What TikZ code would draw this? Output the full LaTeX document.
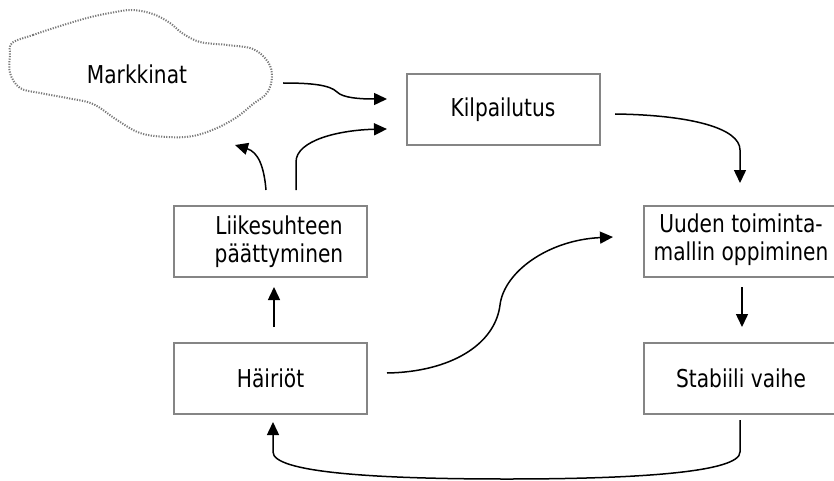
\documentclass[tikz,border=0pt]{standalone}
\usepackage{fontspec}
\setmainfont{DejaVu Sans}[FakeStretch=0.82]
\usetikzlibrary{arrows.meta}
\definecolor{boxgray}{HTML}{858585}
\definecolor{cloudgray}{HTML}{7A7A7A}
\tikzset{
  stagebox/.style={draw=boxgray, line width=2pt, minimum width=193pt,
    minimum height=71pt, inner sep=0pt},
  lbl/.style={align=center, inner sep=0pt,
    font=\fontsize{24.6}{28}\selectfont},
  flow/.style={line width=1.5pt, -{Triangle[length=13pt,width=12pt]}},
}
\begin{document}
\begin{tikzpicture}[x=1pt, y=-1pt]
\useasboundingbox (0,0) rectangle (834,481);
\clip (0,0) rectangle (834,481);

% market cloud
\draw[cloudgray, line width=2pt, dash pattern=on 1.2pt off 1.4pt] plot[smooth cycle, tension=0.6] coordinates {
  (12,43) (33,35) (57,27) (87,18) (110,13) (132,10) (153,14) (170,23) (182,33)
  (200,42) (227,45) (253,49) (268,62) (272,77) (267,93) (253,104) (237,117)
  (217,128) (193,136) (167,137) (140,133) (117,120) (93,104) (67,98) (40,93)
  (20,88) (10,73) (10,55)};
\node[lbl] (mark) at (137,74) {Markkinat};

% stage boxes
\node[stagebox] (kilp) at (503,109.5) {};
\node[lbl] (kilptxt) at (503,109.5) {Kilpailutus};
\node[stagebox] (liik) at (270.5,241.5) {};
\node[lbl] (liiktxt) at (279,241.5) {Liikesuhteen\\päättyminen};
\node[stagebox] (hair) at (270.5,378) {};
\node[lbl] (hairtxt) at (270.5,378) {Häiriöt};
\node[stagebox, minimum width=194pt] (uud) at (741,241.5) {};
\node[lbl] (uudtxt) at (741,239.5) {Uuden toiminta-\\mallin oppiminen};
\node[stagebox, minimum width=194pt] (stab) at (741,378.5) {};
\node[lbl] (stabtxt) at (741,378.5) {Stabiili vaihe};

% connector end points
\coordinate (m1) at (283,83);
\coordinate (k1) at (387,99);
\coordinate (l1) at (296,190);
\coordinate (k2) at (387,129);
\coordinate (l2) at (266,190);
\coordinate (m2) at (235,145);
\coordinate (h1) at (274,327);
\coordinate (l3) at (274,287);
\coordinate (h2) at (387,373);
\coordinate (u1) at (613,237);
\coordinate (k3) at (615,114);
\coordinate (u2) at (740,183);
\coordinate (u3) at (742,287);
\coordinate (s1) at (742,327);
\coordinate (s2) at (740,420);
\coordinate (h3) at (273,422);

% connectors
\draw[flow] (m1) .. controls (312,83) and (330,85) .. (337,92)
  .. controls (343,98) and (360,99) .. (k1);
\draw[flow] (l1) -- (296,162) .. controls (296,140) and (340,130) .. (k2);
\draw[flow] (l2) .. controls (264,166) and (258,152) .. (m2);
\draw[flow] (h1) -- (l3);
\draw[flow] (h2) .. controls (450,372) and (495,345) .. (500,305)
  .. controls (504,272) and (548,240) .. (u1);
\draw[flow] (k3) .. controls (690,115) and (740,128) .. (740,150) -- (u2);
\draw[flow] (u3) -- (s1);
\draw[flow] (s2) -- (740,452) .. controls (740,472) and (640,479) .. (507,479)
  .. controls (370,479) and (273,472) .. (273,452) -- (h3);
\end{tikzpicture}
\end{document}
